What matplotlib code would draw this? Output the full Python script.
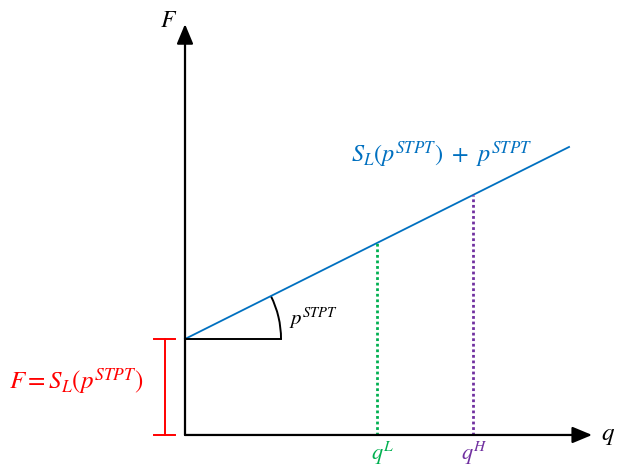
import numpy as np
import matplotlib.pyplot as plt
from matplotlib.patches import Arc

plt.rcParams['mathtext.fontset'] = 'stix'

# fixed-cost intercept and per-unit price (slope of the cost line)
intercept = 1.0
slope = 0.5
q_end = 4.0
q_low = 2.0
q_high = 3.0

blue = '#0070C0'
green = '#00B050'
purple = '#7030A0'
red = '#FF0000'


def main():
    fig = plt.figure(figsize=(6.18, 4.68), dpi=100)
    ax = fig.add_axes([0, 0, 1, 1])
    ax.set_xlim(-1.927, 4.510)
    ax.set_ylim(-0.344, 4.531)
    ax.axis('off')

    # axes with arrowheads
    head = '-|>,head_length=1.2,head_width=0.5'
    ax.annotate('', xy=(4.24, 0), xytext=(0, 0),
                arrowprops=dict(arrowstyle=head, color='black', lw=1.6,
                                shrinkA=0, shrinkB=0))
    ax.annotate('', xy=(0, 4.28), xytext=(0, 0),
                arrowprops=dict(arrowstyle=head, color='black', lw=1.6,
                                shrinkA=0, shrinkB=0))
    ax.text(4.33, 0, '$q$', fontsize=18, ha='left', va='center')
    ax.text(-0.17, 4.32, '$F$', fontsize=17, ha='center', va='center')

    # cost line
    q = np.array([0, q_end])
    ax.plot(q, intercept + slope * q, color=blue, lw=1.3)
    ax.text(2.67, 2.92, r'$S_L(p^{STPT})\ +\ p^{STPT}$', color=blue,
            fontsize=17.5, ha='center', va='center')

    # slope angle
    ax.plot([0, 1.0], [intercept, intercept], color='black', lw=1.4)
    ang = np.degrees(np.arctan(slope))
    ax.add_patch(Arc((0, intercept), 2.0, 2.0, theta1=0, theta2=ang,
                     color='black', lw=1.4))
    ax.text(1.08, 1.21, r'$p^{STPT}$', fontsize=15, ha='left', va='center')

    # quantity markers
    ax.plot([q_low, q_low], [0, intercept + slope * q_low], color=green,
            lw=2.0, ls=(0, (1, 1)))
    ax.plot([q_high, q_high], [0, intercept + slope * q_high], color=purple,
            lw=2.0, ls=(0, (1, 1)))
    ax.text(q_low + 0.06, -0.19, '$q^L$', color=green, fontsize=16,
            ha='center', va='center')
    ax.text(q_high + 0.01, -0.19, '$q^H$', color=purple, fontsize=16,
            ha='center', va='center')

    # fixed-cost bracket
    bx = -0.21
    ax.plot([bx, bx], [0, intercept], color=red, lw=1.4)
    ax.plot([bx - 0.11, bx + 0.11], [0, 0], color=red, lw=1.4)
    ax.plot([bx - 0.11, bx + 0.11], [intercept, intercept], color=red, lw=1.4)
    ax.text(-1.13, 0.55, r'$F = S_L(p^{STPT})$', color=red, fontsize=18,
            ha='center', va='center')

    fig.savefig('out.png', dpi=100)


if __name__ == '__main__':
    main()
